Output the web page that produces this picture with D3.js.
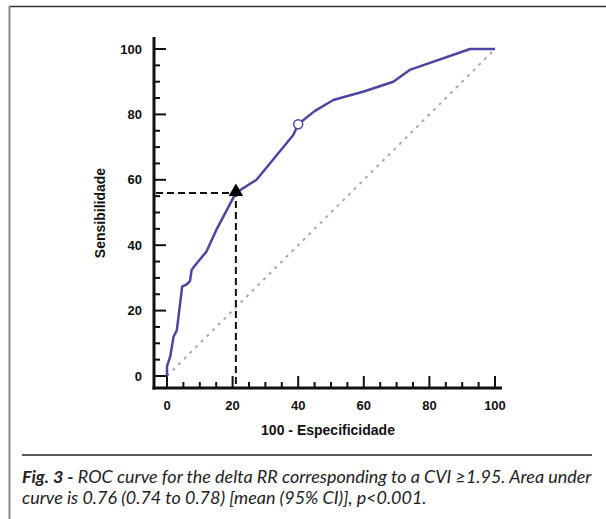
<!DOCTYPE html>
<html lang="en">
<head>
    <meta charset="UTF-8">
    <title>ROC curve</title>
    <script src="https://d3js.org/d3.v7.min.js"></script>
    <style>
        body { margin: 0; background: #fff; }
        svg { display: block; }
    </style>
</head>
<body>
    <div id="container"></div>
    <script>

        // ROC curve points: 100 - specificity (x) vs sensitivity (y)
        const rocX = [0, 0, 1, 2, 3, 4.5, 4.6, 6, 7, 7.5, 9, 12, 15, 21, 27.3, 38.5, 40, 45, 50.7, 60, 69, 74, 92.4, 100];
        const rocY = [0, 3, 6, 12, 14, 26.3, 27.3, 28, 29, 32.4, 34.4, 38, 44.6, 56, 60, 73.7, 77, 81, 84.4, 87, 90, 93.6, 100, 100];

        // cut-off point (triangle) and second marked point (circle)
        const cutPoint = [21, 56];
        const circlePoint = [40, 77];

        const xTicks = [0, 20, 40, 60, 80, 100];
        const yTicks = [0, 20, 40, 60, 80, 100];

        const captionBold = 'Fig. 3 -';
        const captionLine1 = ' ROC curve for the delta RR corresponding to a CVI \u22651.95. Area under';
        const captionLine2 = 'curve is 0.76 (0.74 to 0.78) [mean (95% CI)], p<0.001.';

        const W = 606, H = 519;
        const svg = d3.select('#container').append('svg')
            .attr('width', W).attr('height', H);

        // frame lines
        svg.append('line').attr('x1', 9).attr('x2', W).attr('y1', 6.5).attr('y2', 6.5)
            .attr('stroke', '#333').attr('stroke-width', 1.5);
        svg.append('line').attr('x1', 9.5).attr('x2', 9.5).attr('y1', 6).attr('y2', H)
            .attr('stroke', '#888').attr('stroke-width', 2);
        svg.append('line').attr('x1', 22).attr('x2', 592).attr('y1', 455).attr('y2', 455)
            .attr('stroke', '#222').attr('stroke-width', 1.5);

        // scales
        const x = d3.scaleLinear().domain([0, 100]).range([167, 495]);
        const y = d3.scaleLinear().domain([0, 100]).range([376, 49]);

        const axisX0 = 154, axisY0 = 388;
        const font = '"Liberation Sans", Arial, sans-serif';

        // axes lines
        svg.append('line').attr('x1', axisX0).attr('x2', axisX0).attr('y1', 37).attr('y2', axisY0 + 1.5)
            .attr('stroke', '#111').attr('stroke-width', 3);
        svg.append('line').attr('x1', axisX0 - 1.5).attr('x2', 502).attr('y1', axisY0).attr('y2', axisY0)
            .attr('stroke', '#111').attr('stroke-width', 3);

        // ticks every 5, major every 20
        const minor = d3.range(0, 101, 5);
        svg.selectAll('.ytick').data(minor).enter().append('line')
            .attr('x1', axisX0).attr('x2', d => d % 20 === 0 ? axisX0 + 12 : axisX0 + 6)
            .attr('y1', d => y(d)).attr('y2', d => y(d))
            .attr('stroke', '#111').attr('stroke-width', 2);
        svg.selectAll('.xtick').data(minor).enter().append('line')
            .attr('x1', d => x(d)).attr('x2', d => x(d))
            .attr('y1', axisY0).attr('y2', d => d % 20 === 0 ? axisY0 - 12 : axisY0 - 6)
            .attr('stroke', '#111').attr('stroke-width', 2);

        // tick labels
        svg.selectAll('.ylab').data(yTicks).enter().append('text')
            .attr('x', 142).attr('y', d => y(d)).attr('dy', '0.36em')
            .attr('text-anchor', 'end')
            .style('font', `bold 13px ${font}`).attr('fill', '#111')
            .text(d => d);
        svg.selectAll('.xlab').data(xTicks).enter().append('text')
            .attr('x', d => x(d)).attr('y', 410)
            .attr('text-anchor', 'middle')
            .style('font', `bold 13px ${font}`).attr('fill', '#111')
            .text(d => d);

        // axis titles
        svg.append('text').attr('x', 328).attr('y', 435).attr('text-anchor', 'middle')
            .style('font', `bold 14px ${font}`).attr('fill', '#111')
            .text('100 - Especificidade');
        svg.append('text').attr('transform', 'translate(105,213) rotate(-90)')
            .attr('text-anchor', 'middle')
            .style('font', `bold 14px ${font}`).attr('fill', '#111')
            .text('Sensibilidade');

        // diagonal reference
        svg.append('line').attr('x1', x(0)).attr('y1', y(0)).attr('x2', x(100)).attr('y2', y(100))
            .attr('stroke', '#b5a5a8').attr('stroke-width', 2).attr('stroke-dasharray', '3,5');

        // dashed guides to cut-off
        svg.append('path')
            .attr('d', `M${axisX0 + 2},${y(cutPoint[1])}H${x(cutPoint[0])}V${axisY0 - 2}`)
            .attr('fill', 'none').attr('stroke', '#111').attr('stroke-width', 2)
            .attr('stroke-dasharray', '7,4');

        // ROC curve
        const pts = rocX.map((d, i) => [d, rocY[i]]);
        svg.append('path').datum(pts)
            .attr('d', d3.line().x(d => x(d[0])).y(d => y(d[1])))
            .attr('fill', 'none').attr('stroke', '#4b47a0').attr('stroke-width', 2.5)
            .attr('stroke-linejoin', 'round');

        // markers
        svg.append('path')
            .attr('d', d3.symbol().type(d3.symbolTriangle).size(90)())
            .attr('transform', `translate(${x(cutPoint[0])},${y(cutPoint[1]) - 1})`)
            .attr('fill', '#000');
        svg.append('circle').attr('cx', x(circlePoint[0])).attr('cy', y(circlePoint[1])).attr('r', 4.5)
            .attr('fill', '#fff').attr('stroke', '#4b47a0').attr('stroke-width', 1.5);

        // caption
        const capFont = 'Lato, "Open Sans", sans-serif';
        const t1 = svg.append('text').attr('x', 22).attr('y', 483)
            .style('font-family', capFont).style('font-size', '16px').attr('fill', '#222');
        t1.append('tspan').style('font-weight', 'bold').style('font-style', 'italic').text(captionBold);
        t1.append('tspan').style('font-style', 'italic').text(captionLine1);
        const t2 = svg.append('text').attr('x', 22).attr('y', 504)
            .style('font-family', capFont).style('font-size', '16px').attr('fill', '#222')
            .style('font-style', 'italic').text(captionLine2);

        // fit caption width to the reference line length
        const w1 = t1.node().getComputedTextLength();
        const fs = 16 * 570 / w1;
        t1.style('font-size', fs + 'px');
        t2.style('font-size', fs + 'px');

    </script>
</body>
</html>
